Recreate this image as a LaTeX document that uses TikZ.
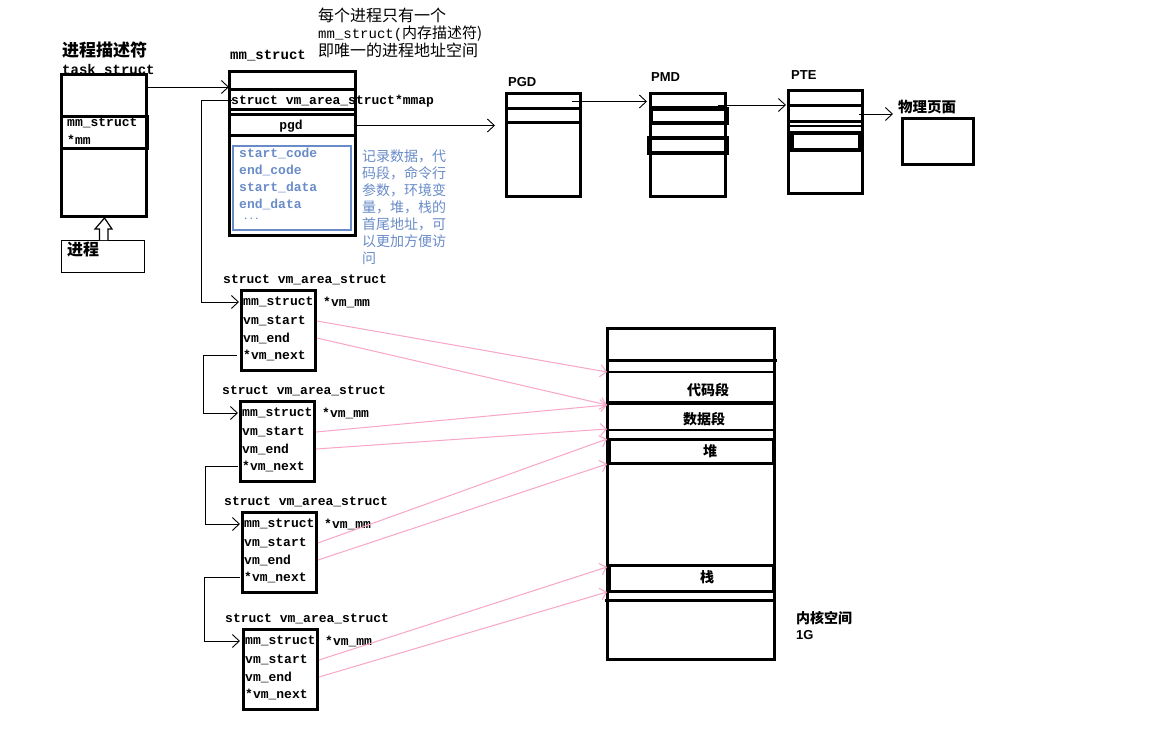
\documentclass[tikz,border=0pt]{standalone}
\usepackage{fontspec}
\setmainfont{Liberation Sans}
\setmonofont{Liberation Mono}
\newfontfamily\cjk{Noto Sans CJK SC}
\usetikzlibrary{fit,arrows.meta,calc}
\definecolor{noteblue}{RGB}{105,140,200}
\definecolor{pinkl}{RGB}{248,165,200}
\begin{document}
\begin{tikzpicture}[x=1pt,y=-1pt,
  tb/.style={draw, line width=3pt, inner sep=0pt, outer sep=0pt},
  tn/.style={draw, line width=1pt, inner sep=0pt, outer sep=0pt},
  code/.style={anchor=west, inner sep=0pt, font=\fontsize{13}{15}\selectfont\ttfamily\bfseries},
  codel/.style={anchor=west, inner sep=0pt, font=\fontsize{14}{16}\selectfont\ttfamily\bfseries},
  bcode/.style={code, text=noteblue},
  hanb/.style={anchor=west, inner sep=0pt, font=\fontsize{15}{18}\selectfont\cjk\bfseries},
  hanc/.style={anchor=center, inner sep=0pt, font=\fontsize{14}{17}\selectfont\cjk\bfseries},
  han/.style={anchor=west, inner sep=0pt, font=\fontsize{16}{18}\selectfont\cjk},
  bnote/.style={anchor=north west, inner sep=0pt, align=left, text=noteblue, font=\fontsize{14}{17}\selectfont\cjk},
  lbl/.style={anchor=west, inner sep=0pt, font=\fontsize{13}{15}\selectfont\bfseries},
  conn/.style={draw, line width=0.9pt, -{Straight Barb[length=7pt,width=13pt]}},
  pk/.style={draw=pinkl, line width=1pt, -{Straight Barb[length=6pt,width=12pt]}}
]
\useasboundingbox[fill=white] (0,0) rectangle (1173,749);

% ---------- task_struct ----------
\node[hanb, font=\fontsize{17}{19}\selectfont\cjk\bfseries] (lts1) at (62,50) {进程描述符};
\node[codel] (lts2) at (62,70) {task\_struct};
\node[tb, fill=white, fit={(61,75) (146,216)}] (ts) {};
\node[tb, fit={(61,117) (147,149)}] (tsmm) {};
\node[code] (tsm1) at (67,123) {mm\_struct};
\node[code] (tsm2) at (67,140) {*mm};
\node[tn, fit={(61,240) (144,272)}] (proc) {};
\node[hanb, font=\fontsize{16}{18}\selectfont\cjk\bfseries] (proct) at (67,250) {进程};
\draw[line width=1.2pt, fill=white]
  ($(proc.north)+(-3,0)$) -- ++(0,-11) -- ++(-4.5,0) -- ($(proc.north)+(2,-22)$)
  -- ($(proc.north)+(9.5,-11)$) -- ++(-4,0) -- ($(proc.north)+(5.5,0)$);

% ---------- mm_struct ----------
\node[han] (n1) at (318,15) {每个进程只有一个};
\node[anchor=west, inner sep=0pt] (n2) at (318,34) {\fontsize{14}{16}\selectfont\ttfamily mm\_struct(\cjk\fontsize{15}{16}\selectfont 内存描述符)};
\node[han] (n3) at (318,50) {即唯一的进程地址空间};
\node[codel] (lmm) at (230,56) {mm\_struct};
\node[tb, fit={(229,72) (355,235)}] (mm) {};
\node[tb, fit={(229,90) (355,110)}] (mmrow) {};
\node[code] (mmt) at (231,101) {struct vm\_area\_struct*mmap};
\node[tb, fit={(229,115) (355,136)}] (pgdrow) {};
\node[code, anchor=center] (pgdt) at (291,126) {pgd};
\node[draw=noteblue, line width=1.2pt, inner sep=0pt, fit={(233,146) (351,230)}] (blue) {};
\node[bcode] (b1) at (239,153) {start\_code};
\node[bcode] (b2) at (239,170) {end\_code};
\node[bcode] (b3) at (239,187) {start\_data};
\node[bcode] (b4) at (239,204) {end\_data};
\node[bcode, font=\fontsize{9}{10}\selectfont\ttfamily\bfseries] (b5) at (243,219) {...};
\node[bnote] (bn) at (362,150) {记录数据，代\\码段，命令行\\参数，环境变\\量，堆，栈的\\首尾地址，可\\以更加方便访\\问};

\draw[conn] ([yshift=-12pt]ts.north east) -- ([yshift=-15pt]mm.north west);

% ---------- page tables ----------
\node[lbl] (lpgd) at (508,82) {PGD};
\node[tb, fit={(506,94) (580,196)}] (pgd) {};
\node[tb, fit={(506,94) (580,109)}] (pgda) {};
\node[tb, fit={(506,109) (580,123)}] (pgdb) {};

\node[lbl] (lpmd) at (651,77) {PMD};
\node[tb, fit={(650,94) (725,196)}] (pmd) {};
\node[tb, fit={(650,94) (725,108)}] (pmda) {};
\node[tb, line width=4pt, fit={(651,109) (727,123)}] (pmdb) {};
\node[tb, line width=4pt, fit={(649,138) (727,153)}] (pmdc) {};

\node[lbl] (lpte) at (791,75) {PTE};
\node[tb, fit={(788,91) (862,193)}] (pte) {};
\node[tb, fit={(788,91) (862,106)}] (ptea) {};
\node[tb, fit={(788,106) (862,122)}] (pteb) {};
\draw[line width=2.5pt] (788,126) -- (862,126);
\node[tb, line width=4pt, fit={(792,133) (860,150)}] (ptec) {};

\node[hanb, font=\fontsize{14.5}{16}\selectfont\cjk\bfseries] (lpage) at (898,107) {物理页面};
\node[tb, fit={(902,119) (973,165)}] (page) {};

\draw[conn, shorten >=11pt] (pgdrow.east) -- (pgdrow.east -| pgd.west);
\draw[conn, shorten >=3pt] ([xshift=-8pt]pgda.east) -- (pgda.east -| pmd.west);
\draw[conn, shorten >=2pt] ($(pmda.east)+(-7,4)$) coordinate (p1) -- (p1 -| pte.west);
\draw[conn, shorten >=9pt] ([xshift=-3pt]pteb.east) -- (pteb.east -| page.west);

% ---------- vm_area_structs ----------
\foreach \i/\x/\y in {1/241/290, 2/240/401, 3/242/512, 4/243/629}{
  \node[code] (va\i l) at (\x-18,\y-10) {struct vm\_area\_struct};
  \node[tb, fit={(\x,\y) (\x+74,\y+80)}] (va\i) {};
  \node[code] (va\i m) at (\x+2,\y+12) {mm\_struct};
  \node[code] (va\i p) at (\x+82,\y+12) {*vm\_mm};
  \node[code] (va\i s) at (\x+2,\y+31) {vm\_start};
  \node[code] (va\i e) at (\x+2,\y+48) {vm\_end};
  \node[code] (va\i n) at (\x+2,\y+65) {*vm\_next};
}
\draw[conn] ([xshift=3pt]mmrow.west) -- ++(-31,0) |- ([xshift=-4pt]va1m.west);
\draw[conn] ([xshift=-6pt]va1n.west) -- ++(-34,0) |- ([xshift=-4pt]va2m.west);
\draw[conn] ([xshift=-4pt]va2n.west) -- ++(-33,0) |- ([xshift=-4pt]va3m.west);
\draw[conn] ([xshift=-4pt]va3n.west) -- ++(-36,0) |- ([xshift=-5pt]va4m.west);

% ---------- memory layout ----------
\node[tb, fit={(607,328) (774,659)}] (mem) {};
\draw[line width=3pt] (607,360) -- (777,360);
\draw[line width=2.5pt] (607,372) -- (774,372);
\draw[line width=4pt] (607,403) -- (774,403);
\draw[line width=2pt] (607,430) -- (774,430);
\node[tb, fit={(609,439) (773,463)}] (heap) {};
\node[tb, fit={(609,565) (773,591)}] (stack) {};
\draw[line width=3pt] (605,600) -- (774,600);
\node[hanc] (tcode) at (708,390) {代码段};
\node[hanc] (tdata) at (704,419) {数据段};
\node[hanc] (theap) at (710,451) {堆};
\node[hanc] (tstack) at (707,577) {栈};
\node[hanb, font=\fontsize{14}{16}\selectfont\cjk\bfseries] (kern) at (796,618) {内核空间};
\node[lbl] (kg) at (796,635) {1G};

\coordinate (m1) at (607,372);
\coordinate (m2) at (607,405);
\coordinate (m3) at (607,429);
\coordinate (m4) at (607,439);
\coordinate (m5) at (607,464);
\coordinate (m6) at (607,567);
\coordinate (m7) at (607,592);

\draw[pk] ([xshift=2pt]va1.east |- va1s) -- (m1);
\draw[pk] ([xshift=2pt]va1.east |- va1e) -- (m2);
\draw[pk] ([xshift=2pt]va2.east |- va2s) -- (m2);
\draw[pk] ([xshift=2pt]va2.east |- va2e) -- (m3);
\draw[pk] ([xshift=2pt]va3.east |- va3s) -- (m4);
\draw[pk] ([xshift=2pt]va3.east |- va3e) -- (m5);
\draw[pk] ([xshift=2pt]va4.east |- va4s) -- (m6);
\draw[pk] ([xshift=2pt]va4.east |- va4e) -- (m7);
\end{tikzpicture}
\end{document}
